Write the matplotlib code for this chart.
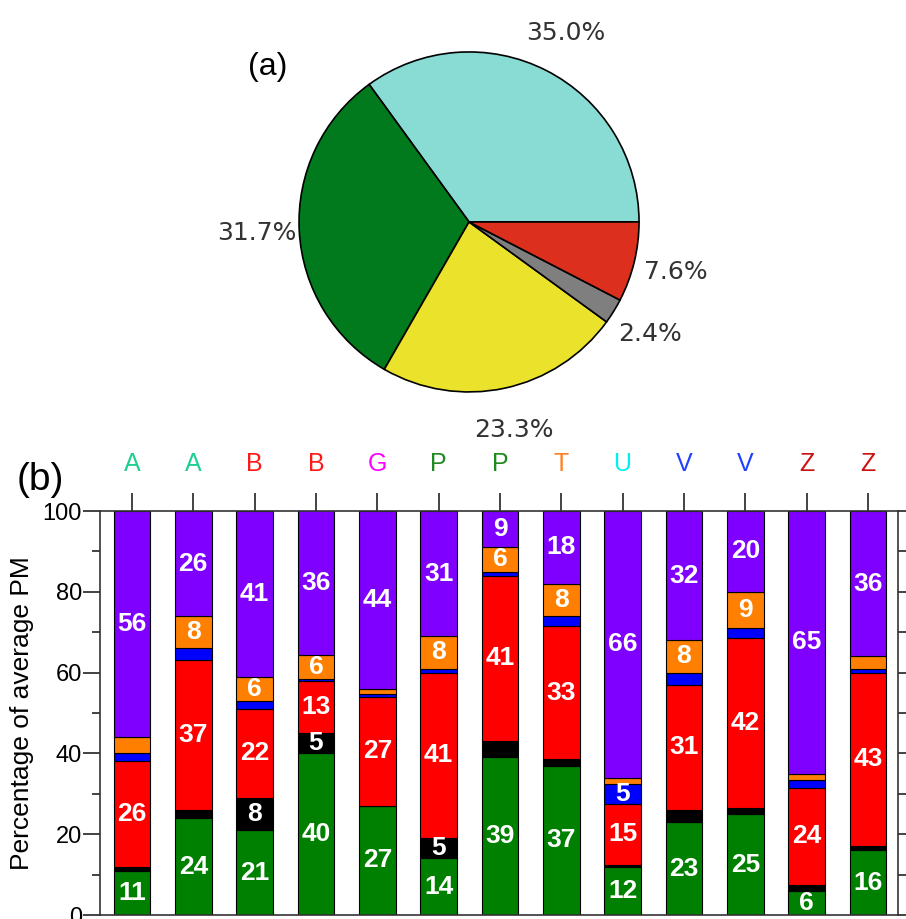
import numpy as np
import matplotlib
matplotlib.use("Agg")
import matplotlib.pyplot as plt

# (a) pie
pie_vals = [35.0, 31.7, 23.3, 2.4, 7.6]
pie_colors = ['#88dcd4', '#007a1c', '#ebe22b', '#7f7f7f', '#dc2f1e']

# (b) stacked bars, bottom -> top
cats = ['A', 'A', 'B', 'B', 'G', 'P', 'P', 'T', 'U', 'V', 'V', 'Z', 'Z']
cat_colors = ['#1ecf8f', '#1ecf8f', '#ff1a1a', '#ff1a1a', '#ff00ff', '#1f8a1f', '#1f8a1f',
              '#ff8020', '#00f0f0', '#2040ff', '#2040ff', '#cc1111', '#cc1111']
green  = [11, 24, 21, 40, 27, 14, 39, 37, 12, 23, 25, 6, 16]
black  = [1, 2, 8, 5, 0, 5, 4, 1.5, 0.5, 3, 1.5, 1.5, 1]
red    = [26, 37, 22, 13, 27, 41, 41, 33, 15, 31, 42, 24, 43]
blue   = [2, 3, 2, 0.3, 0.6, 1, 1, 2.5, 5, 3, 2.5, 2, 1]
orange = [4, 8, 6, 6, 1.4, 8, 6, 8, 1.5, 8, 9, 1.5, 3]
purple = [56, 26, 41, 36, 44, 31, 9, 18, 66, 32, 20, 65, 36]
layers = [green, black, red, blue, orange, purple]
layer_colors = ['#008000', '#000000', '#ff0000', '#0000ff', '#ff8000', '#8000ff']

fig = plt.figure(figsize=(9.06, 9.19), dpi=100)

# pie panel
axp = fig.add_axes([0.255, 0.4995, 0.5254, 0.518])
axp.pie(pie_vals, colors=pie_colors, startangle=0, counterclock=True,
        autopct='%1.1f%%', pctdistance=1.25,
        wedgeprops=dict(edgecolor='black', linewidth=1.2),
        textprops=dict(fontsize=18, color='#333333', family='DejaVu Sans'))
axp.set_xlim(-1.4, 1.4)
axp.set_ylim(-1.4, 1.4)
axp.set_aspect('equal')
axp.axis('off')
fig.text(0.296, 0.927, '(a)', fontsize=23, family='Liberation Sans', ha='center', va='center')

# bar panel
ax = fig.add_axes([0.1104, 0.00435, 0.8808, 0.4396])
x = np.arange(len(cats))
bottom = np.zeros(len(cats))
for vals, col in zip(layers, layer_colors):
    vals = np.array(vals, dtype=float)
    ax.bar(x, vals, bottom=bottom, width=0.6, color=col, edgecolor='black', linewidth=0.8)
    for xi, b, v in zip(x, bottom, vals):
        if v >= 5:
            ax.text(xi, b + v / 2, f'{v:.0f}', ha='center', va='center', color='white',
                    fontsize=19, fontweight='bold', family='Liberation Sans')
    bottom += vals

ax.set_xlim(-0.52, 12.49)
ax.set_ylim(0, 100)
ax.set_yticks(np.arange(0, 101, 20))
ax.set_yticks(np.arange(10, 100, 20), minor=True)
ax.set_xticks(x)
ax.set_xticklabels(cats, fontsize=18, family='Liberation Sans')
ax.tick_params(axis='x', top=True, labeltop=True, bottom=False, labelbottom=False,
               length=13, width=1.2, pad=12, color='#222222')
for tick, c in zip(ax.xaxis.get_major_ticks(), cat_colors):
    tick.label2.set_color(c)
ax.tick_params(axis='y', which='major', left=True, right=True, direction='out',
               length=12, width=1.2, pad=1, labelsize=17, color='#222222')
ax.tick_params(axis='y', which='minor', left=True, right=True, direction='out',
               length=6, width=1.2, color='#222222')
for lbl in ax.get_yticklabels():
    lbl.set_family('Liberation Sans')
for s in ax.spines.values():
    s.set_linewidth(1.2)
    s.set_color('#333333')
ax.set_ylabel('Percentage of average PM', fontsize=19, family='Liberation Sans', labelpad=6)
fig.text(0.045, 0.478, '(b)', fontsize=28, family='Liberation Sans', ha='center', va='center')

fig.savefig('out.png', dpi=100)
